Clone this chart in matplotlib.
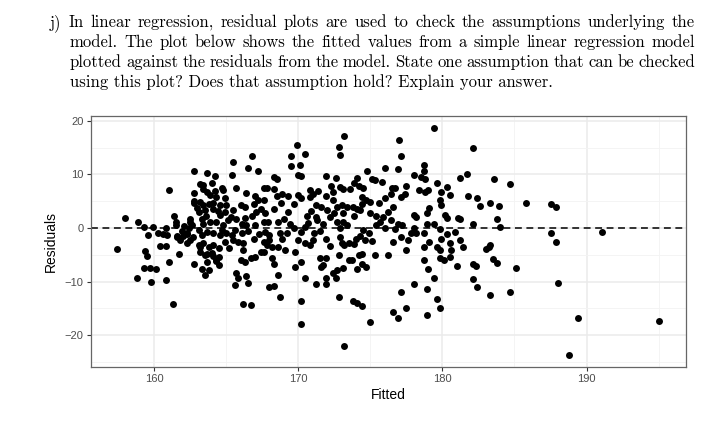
import matplotlib
matplotlib.use("Agg")
from matplotlib import pyplot as plt
from matplotlib.ticker import MultipleLocator
from matplotlib.transforms import IdentityTransform

# question text printed above the plot
question = [
    "j) In linear regression, residual plots are used to check the assumptions underlying the",
    "model.  The plot below shows the fitted values from a simple linear regression model",
    "plotted against the residuals from the model. State one assumption that can be checked",
    "using this plot? Does that assumption hold? Explain your answer.",
]

# (fitted, residual) pairs, left to right
pts_157_161 = [(157.4, -4.0), (158.0, 1.9), (158.9, 1.1), (159.3, 0.2), (159.95, 0.2),
               (159.6, -1.4), (160.3, -0.9), (160.8, -0.1), (160.9, -1.4), (160.4, -3.3),
               (160.8, -3.3), (159.4, -4.3), (159.5, -5.2), (161.0, -6.3), (159.3, -7.4),
               (159.7, -7.4), (160.1, -7.7), (158.8, -9.4), (159.8, -10.0), (160.8, -9.8),
               (161.0, 7.1), (161.3, -14.2), (161.6, -1.5), (162.0, -1.5), (162.3, -1.2),
               (160.6, -1.2), (161.7, -4.9)]
pts_161_165 = [(162.8, 10.6), (163.7, 10.2), (164.2, 9.7), (163.2, 8.2), (164.0, 8.4),
               (164.7, 7.4), (164.8, 7.1), (162.8, 6.6), (163.4, 7.2), (163.7, 6.7),
               (163.9, 6.1), (164.3, 5.8), (164.9, 5.6), (162.8, 4.7), (163.2, 4.8),
               (163.4, 4.2), (163.8, 4.5), (164.1, 4.7), (164.6, 4.2), (165.0, 4.2),
               (161.4, 2.2), (161.5, 1.1), (161.5, 0.5), (163.1, 2.9), (163.5, 3.3),
               (164.1, 3.6), (164.6, 2.5), (164.9, 2.9), (162.5, 1.1), (162.4, -0.1),
               (163.3, 1.6), (163.4, 0.8), (163.9, 1.2), (164.3, 1.1), (164.8, 0.5),
               (161.6, -1.7), (161.8, -2.3), (162.3, -1.0), (162.5, -2.3), (163.1, -0.4),
               (163.3, -1.4), (163.7, -0.7), (164.1, -1.0), (164.6, -1.4), (165.0, -1.0),
               (163.1, -3.2), (163.4, -2.9), (163.8, -3.5), (164.1, -3.1), (164.5, -3.8),
               (164.9, -2.6), (163.2, -4.5), (163.7, -4.8), (164.1, -5.2), (164.5, -5.4),
               (165.2, -3.8), (164.3, -6.2), (162.8, -6.8), (163.3, -7.6), (163.5, -8.7),
               (163.8, -7.9), (163.7, -6.3), (164.5, -6.9), (162.8, 5.1), (163.4, 8.0)]
pts_165_169 = [(165.5, 12.3), (166.8, 13.4), (166.5, 11.2), (167.2, 10.6), (165.4, 9.8),
               (168.3, 9.5), (168.5, 9.2), (165.7, 7.4), (166.4, 6.6), (167.0, 6.0),
               (167.6, 7.4), (167.8, 7.4), (168.3, 7.3), (168.5, 6.0), (168.9, 6.4),
               (169.3, 6.0), (167.2, 5.2), (167.6, 5.2), (166.0, 4.2), (166.3, 3.9),
               (165.5, 3.3), (166.8, 2.2), (167.1, 2.9), (167.7, 2.7), (168.3, 3.6),
               (169.0, 1.7), (169.3, 2.9), (165.3, 2.1), (165.7, 1.7), (166.1, 0.8),
               (166.4, 0.5), (167.0, 0.5), (167.6, 1.1), (167.9, 1.1), (168.6, 1.1),
               (165.6, -0.4), (166.1, -1.0), (166.5, -0.6), (166.9, -2.0), (167.7, -0.7),
               (168.0, -1.4), (168.7, -1.0), (169.2, -1.0), (165.5, -2.3), (165.8, -2.6),
               (166.2, -2.9), (166.2, -4.1), (167.6, -2.6), (167.8, -3.1), (168.2, -3.5),
               (168.6, -3.5), (169.1, -4.1), (166.0, -6.0), (166.3, -6.4), (166.7, -5.7),
               (167.0, -5.4), (167.4, -4.5), (167.6, -4.5), (168.2, -5.7), (168.3, -6.8),
               (168.6, -8.7), (165.7, -8.5), (165.8, -9.4), (165.6, -10.6), (166.4, -8.9),
               (166.5, -10.3), (168.0, -11.1), (168.3, -10.9), (168.7, -12.8), (166.2, -14.2),
               (166.7, -14.4)]
pts_169_173 = [(173.2, 17.1), (172.8, 15.1), (172.9, 13.6), (169.9, 15.5), (169.5, 13.5),
               (170.5, 13.8), (170.1, 11.8), (169.5, 11.5), (170.0, 9.8), (170.2, 9.7),
               (171.9, 9.7), (172.6, 9.3), (172.3, 7.9), (172.9, 7.6), (173.1, 7.3),
               (172.4, 6.7), (170.8, 7.0), (171.0, 6.4), (171.9, 6.0), (170.0, 6.1),
               (170.2, 5.5), (169.7, 4.5), (170.8, 5.8), (171.2, 4.2), (171.6, 3.9),
               (172.0, 3.3), (172.4, 5.2), (172.7, 3.9), (173.0, 4.2), (173.4, 3.9),
               (173.1, 2.7), (170.6, 2.2), (171.2, 2.0), (171.3, 1.4), (172.2, 2.0),
               (172.7, 1.1), (173.1, 1.1), (169.4, 0.8), (169.7, 0.0), (170.5, 0.2),
               (171.7, 0.8), (172.9, -0.1), (173.4, 0.5), (170.2, -0.7), (171.1, -1.0),
               (170.0, -2.3), (170.5, -2.9), (171.0, -2.3), (170.8, -3.2), (171.9, -2.0),
               (172.9, -1.7), (173.0, -2.9), (173.2, -3.2), (173.5, -2.9), (169.8, -4.5),
               (170.2, -6.3), (171.5, -5.6), (171.9, -5.7), (171.7, -6.9), (171.6, -7.2),
               (172.8, -5.1), (173.5, -6.0), (173.1, -7.5), (172.7, -7.9), (172.4, -8.5),
               (172.6, -9.4), (169.8, -7.2), (170.5, -9.3), (171.2, -10.5), (171.9, -9.3),
               (171.9, -10.5), (172.8, -12.8), (170.2, -13.7), (170.2, -17.9), (173.2, -22.1)]
pts_173_177 = [(177.0, 16.5), (177.1, 13.4), (176.0, 11.2), (176.9, 11.0), (174.8, 10.6),
               (174.1, 9.3), (175.1, 9.2), (175.3, 8.9), (175.8, 8.6), (173.9, 8.4),
               (174.2, 7.9), (174.5, 7.5), (176.5, 7.5), (176.7, 7.4), (177.5, 7.8),
               (173.6, 7.3), (176.4, 6.4), (177.1, 5.8), (177.4, 6.4), (174.4, 5.8),
               (174.7, 5.3), (175.0, 4.8), (175.6, 4.7), (176.0, 5.5), (174.4, 4.5),
               (174.1, 3.6), (173.8, 3.9), (174.3, 3.3), (173.9, 2.2), (175.0, 2.7),
               (175.4, 2.2), (175.9, 2.0), (176.2, 2.9), (176.4, 1.4), (175.4, 0.5),
               (176.0, -0.1), (176.7, -0.2), (176.9, 0.8), (177.2, 0.5), (174.5, -0.4),
               (174.0, -2.0), (174.3, -1.5), (174.6, -2.3), (175.1, -2.5), (177.1, -1.7),
               (177.6, -2.3), (176.6, -2.7), (177.5, -4.1), (173.7, -6.0), (174.2, -5.1),
               (174.4, -4.9), (174.1, -7.7), (174.4, -6.8), (174.7, -7.2), (175.3, -5.1),
               (176.2, -5.1), (173.8, -13.7), (174.1, -14.1), (174.4, -14.5), (175.0, -17.6),
               (177.1, -12.0), (176.6, -15.7), (177.5, -15.0), (176.9, -16.8)]
pts_177_181 = [(179.4, 18.6), (178.7, 11.8), (178.7, 10.7), (178.0, 9.9), (178.5, 9.5),
               (178.8, 9.2), (179.6, 8.4), (180.3, 7.6), (181.2, 9.3), (181.7, 10.1),
               (181.8, 6.0), (178.4, 7.0), (178.8, 6.7), (179.0, 7.0), (179.9, 6.7),
               (180.5, 6.1), (179.8, 5.2), (179.9, 4.2), (179.1, 3.7), (178.9, 2.7),
               (178.0, 2.4), (178.2, 2.1), (180.2, 2.4), (180.3, 1.9), (181.1, 1.9),
               (181.2, 1.6), (178.9, 0.8), (179.4, 0.8), (178.0, -0.1), (177.8, -0.9),
               (178.2, -1.0), (178.7, -0.9), (179.8, -0.2), (180.3, -1.2), (180.9, -0.7),
               (181.2, -2.3), (181.4, -3.5), (178.7, -3.5), (179.1, -2.7), (179.9, -2.1),
               (179.6, -3.5), (179.8, -4.1), (180.5, -2.9), (180.6, -4.1), (179.8, -5.7),
               (180.1, -6.0), (180.5, -5.4), (181.0, -7.1), (178.7, -6.0), (179.0, -7.7),
               (179.4, -9.3), (178.0, -10.5), (178.9, -11.4), (179.6, -13.3), (179.8, -14.9),
               (178.9, -16.3)]
pts_181_195 = [(182.1, 14.9), (183.6, 9.1), (184.7, 8.2), (182.4, 5.6), (182.6, 4.1),
               (183.3, 4.7), (183.9, 4.1), (185.8, 4.7), (182.1, 0.8), (183.8, 1.6),
               (184.0, 0.2), (183.3, -3.1), (183.2, -3.5), (183.0, -4.0), (183.5, -5.8),
               (183.8, -6.6), (185.1, -7.4), (182.1, -6.8), (182.3, -7.1), (182.1, -9.5),
               (182.4, -11.1), (183.3, -12.6), (184.7, -12.0), (187.5, 4.4), (187.9, 4.0),
               (187.5, -0.9), (187.9, -2.6), (191.1, -0.7), (188.0, -10.2), (189.4, -16.8),
               (188.8, -23.8), (195.0, -17.3)]
# overlapping points in the crowded middle, estimated
pts_crowded = [(162.5, 1.7), (162.6, 0.5), (162.3, -2.9), (163.2, -3.5), (163.5, -5.1),
               (164.0, -4.6), (164.3, -5.9), (162.1, 0.3), (161.9, -0.6), (162.7, -1.6),
               (163.0, 3.8), (164.4, 3.2), (164.7, -0.3), (163.6, 2.2), (165.1, 1.5),
               (165.4, -1.4), (164.2, 6.9), (166.9, 4.5), (167.4, 3.5), (168.0, -2.2),
               (168.9, -2.0), (166.3, 1.8), (167.3, -1.2), (168.8, 4.6), (170.9, 3.2),
               (171.5, -0.5), (172.2, -3.4), (170.7, 0.9), (172.5, 2.8), (171.4, 6.9),
               (174.9, -1.0), (175.7, 1.2), (173.9, -3.0), (176.6, 3.9)]

bands = [pts_157_161, pts_161_165, pts_165_169, pts_169_173,
         pts_173_177, pts_177_181, pts_181_195, pts_crowded]
fitted = [p[0] for b in bands for p in b]
resid = [p[1] for b in bands for p in b]

xticks = [160, 170, 180, 190]
yticks = [-20, -10, 0, 10, 20]
ytick_labels = ["\u221220", "\u221210", "0", "10", "20"]

plt.rcParams["font.family"] = ["Liberation Sans", "DejaVu Sans"]

W, H = 721, 426
fig = plt.figure(figsize=(W / 100, H / 100), dpi=100)
fig.patch.set_facecolor("white")

# panel, in pixel bounds of the reference
left, right, top, bottom = 90.7, 686.0, 116.0, 366.7
ax = fig.add_axes([left / W, 1 - bottom / H, (right - left) / W, (bottom - top) / H])

ax.axhline(0, color="black", lw=1.1, ls=(0, (4.5, 3)), zorder=2)
ax.scatter(fitted, resid, s=25, color="black", linewidths=0, zorder=3)

ax.set_xlim(155.6, 196.9)
ax.set_ylim(-25.9, 20.9)
ax.set_xticks(xticks)
ax.set_xticklabels([str(t) for t in xticks])
ax.set_yticks(yticks)
ax.set_yticklabels(ytick_labels)
ax.xaxis.set_minor_locator(MultipleLocator(5))
ax.yaxis.set_minor_locator(MultipleLocator(5))
ax.grid(which="major", color="#EBEBEB", lw=1.1)
ax.grid(which="minor", color="#F3F3F3", lw=0.6)
ax.set_axisbelow(True)
ax.tick_params(which="minor", length=0)
ax.tick_params(which="major", length=3, width=0.8, color="#333333",
               labelsize=8, labelcolor="#4D4D4D", pad=2)
for sp in ax.spines.values():
    sp.set_color("#666666")
    sp.set_linewidth(0.9)
ax.set_xlabel("Fitted", fontsize=10, labelpad=3)
ax.set_ylabel("Residuals", fontsize=10, labelpad=5)

# justified question text in a TeX-like serif
fig.canvas.draw()
renderer = fig.canvas.get_renderer()
tfont = dict(family="cmr10", fontsize=12.0, color="black")
baselines = [27, 47, 67, 87]
starts = [50, 70, 70, 70]
line_end = 695
for i, line in enumerate(question):
    y = H - baselines[i]
    if i == len(question) - 1:
        fig.text(starts[i], y, line, transform=IdentityTransform(),
                 va="baseline", ha="left", **tfont)
        continue
    words = line.split()
    objs = [fig.text(0, y, w, transform=IdentityTransform(), va="baseline",
                     ha="left", **tfont) for w in words]
    widths = [o.get_window_extent(renderer).width for o in objs]
    gap = (line_end - starts[i] - sum(widths)) / (len(words) - 1)
    x = starts[i]
    for o, w in zip(objs, widths):
        o.set_x(x)
        x += w + gap

fig.savefig("out.png", dpi=100)
